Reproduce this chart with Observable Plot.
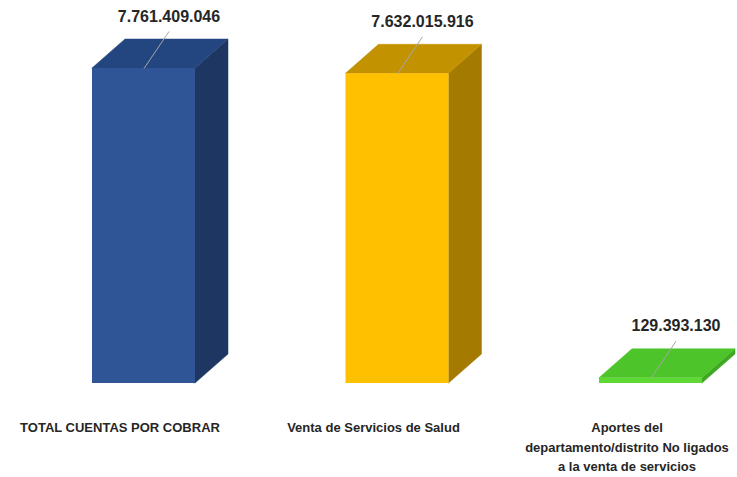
<!DOCTYPE html>
<html><head><meta charset="utf-8">
<script src="https://cdn.jsdelivr.net/npm/d3@7"></script>
<script src="https://cdn.jsdelivr.net/npm/@observablehq/plot@0.6"></script>
<style>body{margin:0;background:#fff}</style>
</head><body><div id="chart"></div>
<script>
const categories = [
  "TOTAL CUENTAS POR COBRAR",
  "Venta de Servicios de Salud",
  "Aportes del\ndepartamento/distrito No ligados\na la venta de servicios"
];
const values = [7761409046, 7632015916, 129393130];
const frontColors = ["#2F5597", "#FFC000", "#5ED832"];
const topColors = ["#244680", "#C39200", "#4CC42A"];
const sideColors = ["#1E3762", "#A47B00", "#3FA822"];

const W = 737, H = 477, mL = 143.5, mR = 86.5, mT = 68, mB = 94;
const xUnit = (W - mL - mR) / (categories.length - 1);
const maxV = d3.max(values);
const yUnit = (H - mT - mB) / maxV;
const px2x = p => p / xUnit, px2y = p => p / yUnit;
const hw = px2x(51.5), ddx = px2x(33), ddy = px2y(29);

const fmt = d3.formatLocale({decimal: ",", thousands: ".", grouping: [3], currency: ["", ""]}).format(",d");

const rows = categories.map((c, i) => ({i, c, v: values[i]}));
const sideFaces = rows.flatMap(d => [
  {i: d.i, x: d.i + hw, y1: 0, y2: d.v, f: sideColors[d.i]},
  {i: d.i, x: d.i + hw + ddx, y1: ddy, y2: d.v + ddy, f: sideColors[d.i]}
]);
const topFaces = rows.flatMap(d => [
  {i: d.i, y: d.v, x1: d.i - hw, x2: d.i + hw, f: topColors[d.i]},
  {i: d.i, y: d.v + ddy, x1: d.i - hw + ddx, x2: d.i + hw + ddx, f: topColors[d.i]}
]);

const chart = Plot.plot({
  width: W, height: H,
  marginLeft: mL, marginRight: mR, marginTop: mT, marginBottom: mB,
  style: {fontFamily: "Liberation Sans, Arial, sans-serif", background: "#fff"},
  x: {domain: [0, categories.length - 1], axis: null},
  y: {domain: [0, maxV], axis: null},
  color: {type: "identity"},
  marks: [
    Plot.areaY(sideFaces, {x: "x", y1: "y1", y2: "y2", z: "i", fill: "f", stroke: "f", strokeWidth: 0.5}),
    Plot.areaX(topFaces, {y: "y", x1: "x1", x2: "x2", z: "i", fill: "f", stroke: "f", strokeWidth: 0.5}),
    Plot.rect(rows, {x1: d => d.i - hw, x2: d => d.i + hw, y1: 0, y2: "v", fill: (d) => frontColors[d.i], inset: 0}),
    Plot.link(rows, {x1: "i", y1: "v", x2: d => d.i + px2x(25), y2: d => d.v + px2y(37), stroke: "#a6a6a6", strokeWidth: 1}),
    Plot.text(rows, {x: d => d.i + px2x(25), y: d => d.v + px2y(37), dy: -15, text: d => fmt(d.v),
      fontSize: 16, fontWeight: "bold", fill: "#262626"}),
    Plot.text(rows, {x: "i", y: 0, dx: -24, dy: 35, lineAnchor: "top", text: "c", lineHeight: 1.5,
      fontSize: 13, fontWeight: "bold", fill: "#262626"})
  ]
});
document.getElementById("chart").append(chart);
</script>
</body></html>
